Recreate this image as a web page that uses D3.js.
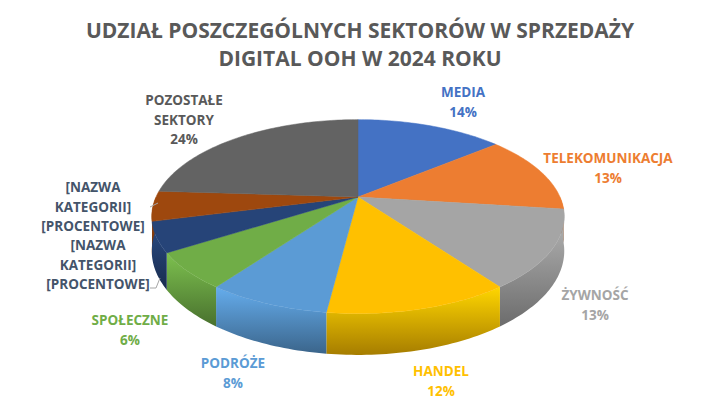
<!DOCTYPE html>
<html><head><meta charset="utf-8">
<script src="https://cdn.jsdelivr.net/npm/d3@7"></script>
<style>body{margin:0;background:#fff}</style>
</head><body><svg></svg>
<script>
const categories = ["MEDIA", "TELEKOMUNIKACJA", "ŻYWNOŚĆ", "HANDEL", "PODRÓŻE", "SPOŁECZNE", "[NAZWA KATEGORII]", "[NAZWA KATEGORII]", "POZOSTAŁE SEKTORY"];
const values = [14, 13, 13, 12, 8, 6, 5, 5, 24];
const colors = ["#4472C4", "#ED7D31", "#A5A5A5", "#FFC000", "#5B9BD5", "#70AD47", "#264478", "#9E480E", "#636363"];
const labelColors = ["#4472C4", "#ED7D31", "#A5A5A5", "#FFC000", "#5B9BD5", "#70AD47", "#44546A", "#44546A", "#595959"];
// label lines (text) and anchor position
const labels = [
  {lines: ["MEDIA", "14%"], x: 463, y: 97},
  {lines: ["TELEKOMUNIKACJA", "13%"], x: 608, y: 163},
  {lines: ["ŻYWNOŚĆ", "13%"], x: 595, y: 300},
  {lines: ["HANDEL", "12%"], x: 441, y: 376},
  {lines: ["PODRÓŻE", "8%"], x: 233, y: 368},
  {lines: ["SPOŁECZNE", "6%"], x: 130, y: 325},
  {lines: ["[NAZWA", "KATEGORII]", "[PROCENTOWE]"], x: 93, y: 192},
  {lines: ["[NAZWA", "KATEGORII]", "[PROCENTOWE]"], x: 98, y: 250},
  {lines: ["POZOSTAŁE", "SEKTORY", "24%"], x: 184, y: 105}
];

const width = 720, height = 410;
const svg = d3.select("svg").attr("width", width).attr("height", height);

svg.append("g").selectAll("text")
  .data(["UDZIAŁ POSZCZEGÓLNYCH SEKTORÓW W SPRZEDAŻY", "DIGITAL OOH W 2024 ROKU"])
  .enter().append("text")
  .attr("x", 360).attr("y", (d, i) => 38 + i * 28)
  .attr("text-anchor", "middle")
  .style("font", "bold 21px 'Open Sans', sans-serif")
  .attr("fill", "#595959")
  .text(d => d);

// perspective projection of the disk
const cx = 358, cy = 197, a = 0.202, sx = 202, sy = 93, depth = 33;
function proj(t, r, dz) {
  let x = Math.sin(t) * r, z = -Math.cos(t) * r;
  let f = 1 / (1 - a * z);
  return [cx + sx * x * f, cy + sy * z * f + (dz || 0) * f];
}

const pie = d3.pie().sort(null).value(d => d)(values);
const defs = svg.append("defs");

function arcPts(s, e, dz) {
  let n = Math.max(4, Math.ceil((e - s) / 0.02)), pts = [];
  for (let i = 0; i <= n; i++) pts.push(proj(s + (e - s) * i / n, 1, dz));
  return pts;
}

const line = d3.line();
// side walls (front half: angles between PI/2 and 3PI/2)
pie.forEach((p, i) => {
  let s = Math.max(p.startAngle, Math.PI / 2), e = Math.min(p.endAngle, 3 * Math.PI / 2);
  if (e <= s) return;
  let top = arcPts(s, e, 0), bot = arcPts(s, e, depth).reverse();
  let g = defs.append("linearGradient").attr("id", "side" + i)
    .attr("x1", 0).attr("y1", 0).attr("x2", 0).attr("y2", 1);
  g.append("stop").attr("offset", "0%").attr("stop-color", d3.color(colors[i]).brighter(0.3));
  g.append("stop").attr("offset", "100%").attr("stop-color", d3.color(colors[i]).darker(1.2));
  svg.append("path").attr("d", line(top.concat(bot)) + "Z")
    .attr("fill", `url(#side${i})`);
});

// top faces
pie.forEach((p, i) => {
  let pts = [proj(0, 0, 0)].concat(arcPts(p.startAngle, p.endAngle, 0));
  svg.append("path").attr("d", line(pts) + "Z")
    .attr("fill", colors[i]).attr("stroke", colors[i]).attr("stroke-width", 0.5);
});

// leader lines for small slices
svg.append("path").attr("d", "M150,207 L158,203").attr("stroke", "#a6a6a6").attr("fill", "none");
svg.append("path").attr("d", "M150,288 L156,288 L160,278").attr("stroke", "#a6a6a6").attr("fill", "none");

labels.forEach((l, i) => {
  svg.append("g").selectAll("text").data(l.lines).enter().append("text")
    .attr("x", l.x).attr("y", (d, j) => l.y + j * 19.5)
    .attr("text-anchor", "middle")
    .style("font", "bold 13.5px 'Open Sans', sans-serif")
    .attr("fill", labelColors[i])
    .text(d => d);
});
</script>
</body></html>
